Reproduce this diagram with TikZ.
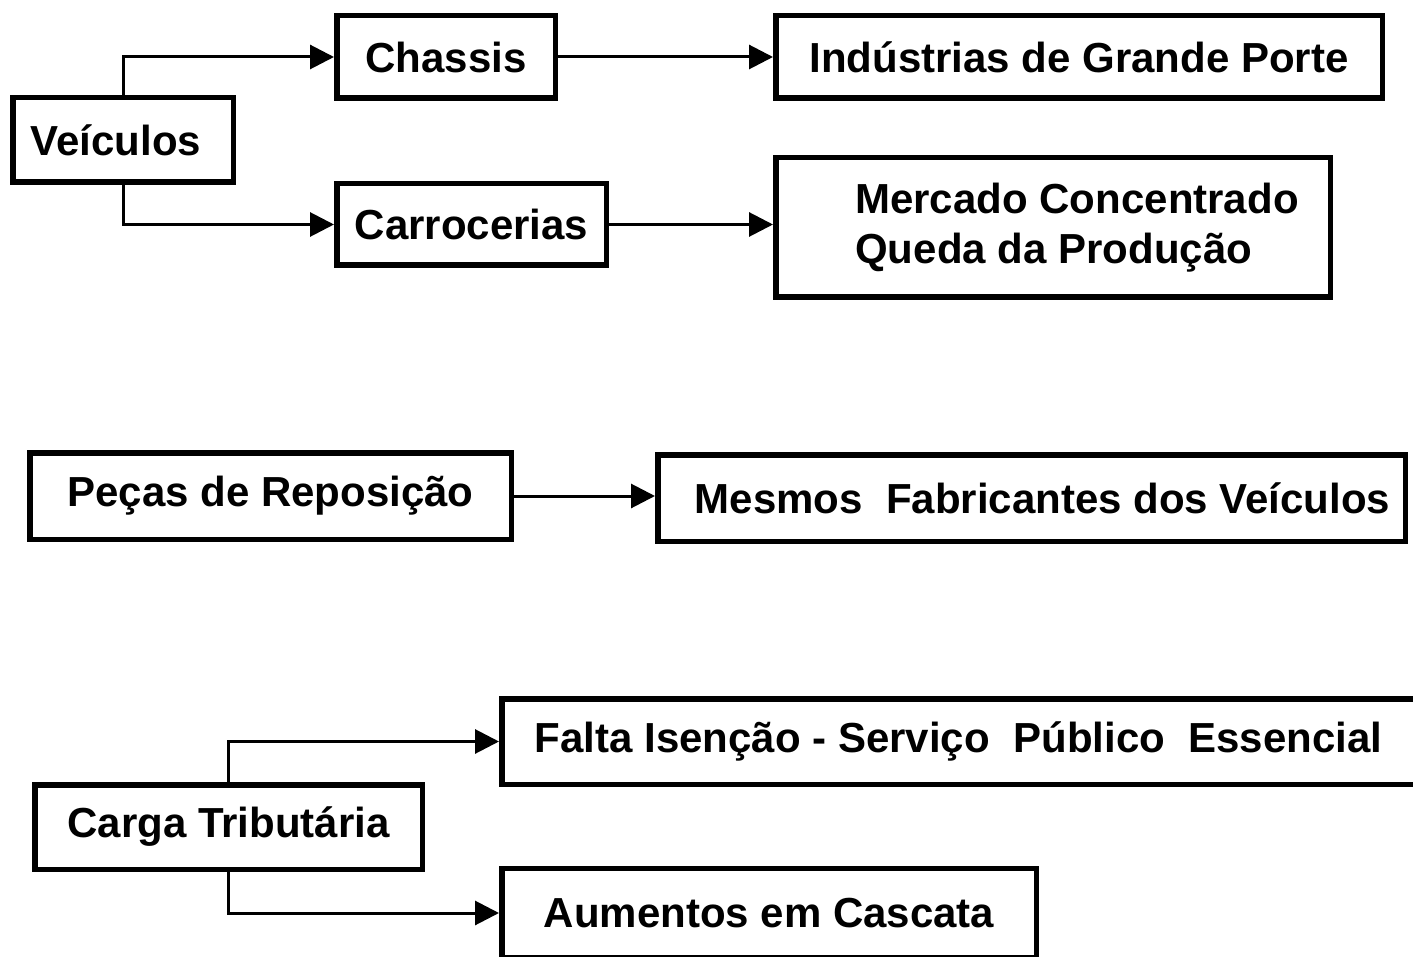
\documentclass[tikz,border=0pt]{standalone}
\usepackage{fontspec}
\setmainfont{Liberation Sans}
\usetikzlibrary{arrows.meta}

\tikzset{
  caixa/.style={draw, line width=5.5pt, inner sep=0pt, font=\fontsize{42}{50}\selectfont\bfseries},
  seta/.style={line width=3pt, -{Triangle[length=24pt,width=24pt]}}
}

\begin{document}
\begin{tikzpicture}[x=1pt,y=1pt,yscale=-1,xscale=1]
\clip (0,0) rectangle (1413,957);
\fill[white] (0,0) rectangle (1413,957);

% Veiculos
\node [caixa, minimum width=220.5pt, minimum height=84.5pt] (veic) at (123,140) {Veículos\hspace*{14pt}};
\node [caixa, minimum width=218.5pt, minimum height=82.5pt] (chas) at (446,57) {Chassis};
\node [caixa, minimum width=269.5pt, minimum height=81.5pt] (carr) at (471.5,224.5) {Carrocerias};
\node [caixa, minimum width=606.5pt, minimum height=82.5pt] (indu) at (1079,57) {Indústrias de Grande Porte};
\node [caixa, minimum width=554.5pt, minimum height=139.5pt, align=left] (merc) at (1053,227.5) {\hspace*{48pt}Mercado Concentrado\\\hspace*{48pt}Queda da Produção};

% Pecas
\node [caixa, minimum width=481.5pt, minimum height=86.5pt] (pecas) at (270.5,496) {Peças de Reposição};
\node [caixa, minimum width=747.5pt, minimum height=86.5pt] (mesm) at (1031.5,498) {\hspace*{22pt}Mesmos\ \ Fabricantes dos Veículos};

% Carga tributaria
\node [caixa, minimum width=387.5pt, minimum height=84.5pt] (carga) at (228.5,827) {Carga Tributária};
\node [caixa, minimum width=925.5pt, minimum height=85.5pt] (falta) at (964.5,741.5) {Falta Isenção - Serviço\ \ Público\ \ Essencial\hspace*{12pt}};
\node [caixa, minimum width=534.5pt, minimum height=89pt] (aum) at (769,913) {Aumentos em Cascata};

% Setas
\draw [seta] (veic.north) |- (chas.west);
\draw [seta] (veic.south) |- (carr.west);
\draw [seta] (chas.east) -- (indu.west);
\draw [seta] (carr.east) -- (carr.east -| merc.west);
\draw [seta] (pecas.east) -- (pecas.east -| mesm.west);
\draw [seta] (carga.north) |- (falta.west);
\draw [seta] (carga.south) |- (aum.west);

\end{tikzpicture}
\end{document}
